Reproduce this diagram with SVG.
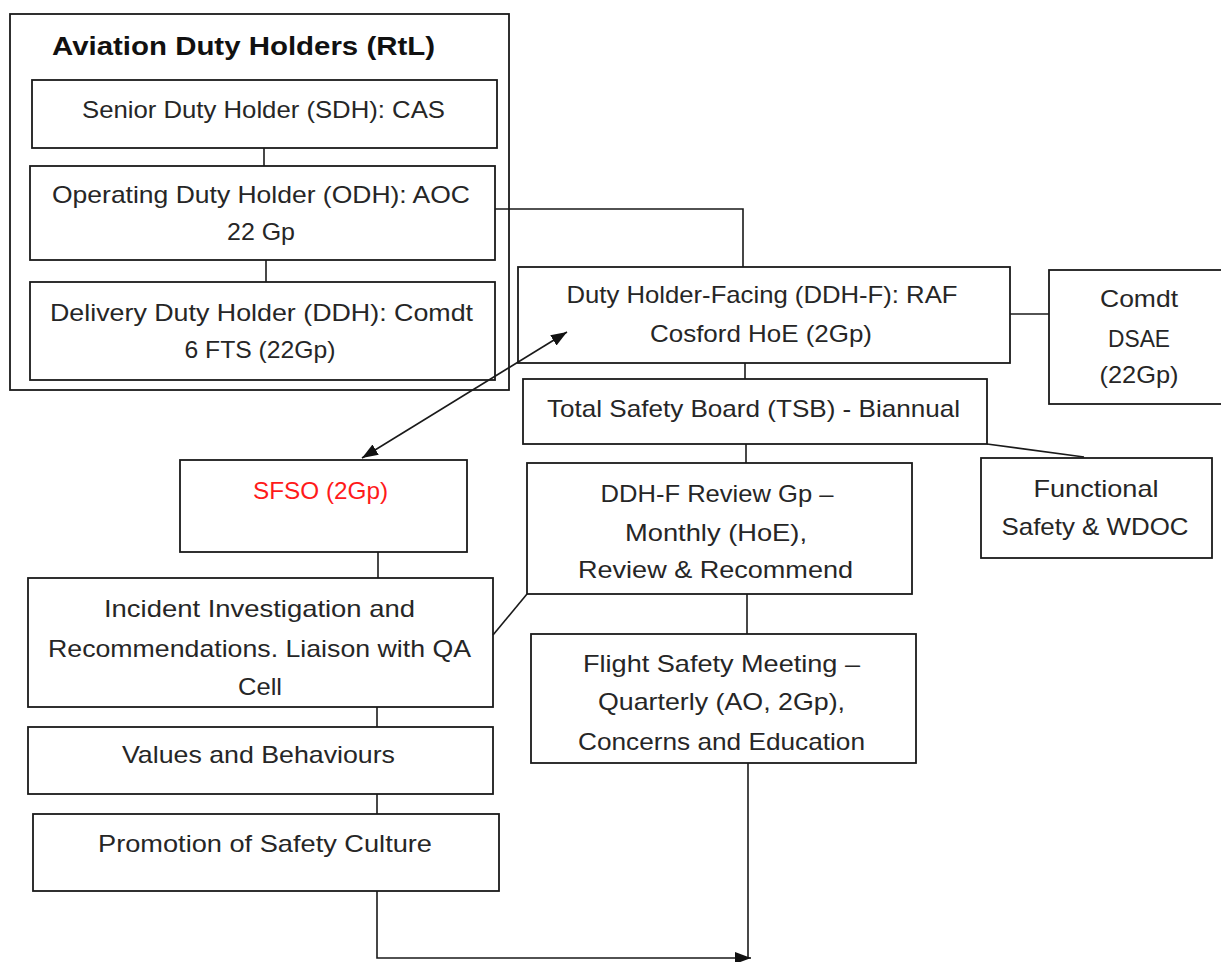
<svg xmlns="http://www.w3.org/2000/svg" width="1221" height="962" viewBox="0 0 1221 962">
<defs>
<style>
.box{fill:#fff;stroke:#1a1a1a;stroke-width:1.8}
.frame{fill:none;stroke:#1a1a1a;stroke-width:1.8}
.t{font-family:"Liberation Sans",Arial,sans-serif;font-size:24px;fill:#262626;text-anchor:middle}
.title{font-family:"Liberation Sans",Arial,sans-serif;font-size:25px;font-weight:bold;fill:#111}
.red{fill:#ff1a1a}
.c{fill:none;stroke:#1a1a1a;stroke-width:1.6}
</style>
<marker id="ah" viewBox="0 0 16 12" refX="16" refY="6" markerWidth="16" markerHeight="12" markerUnits="userSpaceOnUse" orient="auto-start-reverse">
<path d="M0,0 L16,6 L0,12 Z" fill="#111"/>
</marker>
</defs>
<rect width="1221" height="962" fill="#fff"/>

<g id="aviation-duty-holders">
<rect class="frame" x="10" y="14" width="499" height="376"/>
<text class="title" x="52" y="55" textLength="383" lengthAdjust="spacingAndGlyphs">Aviation Duty Holders (RtL)</text>
</g>

<g id="sdh">
<rect class="box" x="32" y="80" width="465" height="68"/>
<text class="t" x="263.5" y="118" textLength="363" lengthAdjust="spacingAndGlyphs">Senior Duty Holder (SDH): CAS</text>
</g>

<g id="odh">
<rect class="box" x="30" y="166" width="465" height="94"/>
<text class="t" x="261" y="203" textLength="418" lengthAdjust="spacingAndGlyphs">Operating Duty Holder (ODH): AOC</text>
<text class="t" x="261" y="240" textLength="68" lengthAdjust="spacingAndGlyphs">22 Gp</text>
</g>

<g id="ddh">
<rect class="box" x="30" y="282" width="465" height="98"/>
<text class="t" x="261.5" y="321" textLength="423" lengthAdjust="spacingAndGlyphs">Delivery Duty Holder (DDH): Comdt</text>
<text class="t" x="260" y="358" textLength="151" lengthAdjust="spacingAndGlyphs">6 FTS (22Gp)</text>
</g>

<g id="ddh-f">
<rect class="box" x="518" y="267" width="492" height="96"/>
<text class="t" x="762" y="303" textLength="391" lengthAdjust="spacingAndGlyphs">Duty Holder-Facing (DDH-F): RAF</text>
<text class="t" x="761" y="342" textLength="222" lengthAdjust="spacingAndGlyphs">Cosford HoE (2Gp)</text>
</g>

<g id="comdt-dsae">
<rect class="box" x="1049" y="270" width="180" height="134"/>
<text class="t" x="1139" y="307" textLength="78" lengthAdjust="spacingAndGlyphs">Comdt</text>
<text class="t" x="1139" y="347" textLength="62" lengthAdjust="spacingAndGlyphs">DSAE</text>
<text class="t" x="1139" y="383" textLength="79" lengthAdjust="spacingAndGlyphs">(22Gp)</text>
</g>

<g id="tsb">
<rect class="box" x="523" y="379" width="464" height="65"/>
<text class="t" x="753.5" y="417" textLength="413" lengthAdjust="spacingAndGlyphs">Total Safety Board (TSB) - Biannual</text>
</g>

<g id="functional-safety">
<rect class="box" x="981" y="458" width="231" height="100"/>
<text class="t" x="1096" y="497" textLength="125" lengthAdjust="spacingAndGlyphs">Functional</text>
<text class="t" x="1095" y="535" textLength="187" lengthAdjust="spacingAndGlyphs">Safety &amp; WDOC</text>
</g>

<g id="review-gp">
<rect class="box" x="527" y="463" width="385" height="131"/>
<text class="t" x="717" y="502" textLength="233" lengthAdjust="spacingAndGlyphs">DDH-F Review Gp –</text>
<text class="t" x="716" y="541" textLength="182" lengthAdjust="spacingAndGlyphs">Monthly (HoE),</text>
<text class="t" x="715.5" y="578" textLength="275" lengthAdjust="spacingAndGlyphs">Review &amp; Recommend</text>
</g>

<g id="flight-safety-meeting">
<rect class="box" x="531" y="634" width="385" height="129"/>
<text class="t" x="721.5" y="672" textLength="277" lengthAdjust="spacingAndGlyphs">Flight Safety Meeting –</text>
<text class="t" x="721.5" y="710" textLength="247" lengthAdjust="spacingAndGlyphs">Quarterly (AO, 2Gp),</text>
<text class="t" x="721.5" y="750" textLength="287" lengthAdjust="spacingAndGlyphs">Concerns and Education</text>
</g>

<g id="sfso">
<rect class="box" x="180" y="460" width="287" height="92"/>
<text class="t red" x="320.5" y="499" textLength="135" lengthAdjust="spacingAndGlyphs">SFSO (2Gp)</text>
</g>

<g id="incident-investigation">
<rect class="box" x="28" y="578" width="465" height="129"/>
<text class="t" x="259.5" y="617" textLength="311" lengthAdjust="spacingAndGlyphs">Incident Investigation and</text>
<text class="t" x="259.5" y="657" textLength="423" lengthAdjust="spacingAndGlyphs">Recommendations. Liaison with QA</text>
<text class="t" x="260" y="695" textLength="44" lengthAdjust="spacingAndGlyphs">Cell</text>
</g>

<g id="values-behaviours">
<rect class="box" x="28" y="727" width="465" height="67"/>
<text class="t" x="258.5" y="763" textLength="273" lengthAdjust="spacingAndGlyphs">Values and Behaviours</text>
</g>

<g id="safety-culture">
<rect class="box" x="33" y="814" width="466" height="77"/>
<text class="t" x="265" y="852" textLength="334" lengthAdjust="spacingAndGlyphs">Promotion of Safety Culture</text>
</g>

<g id="connectors">
<line class="c" x1="264" y1="148" x2="264" y2="166"/>
<line class="c" x1="266" y1="260" x2="266" y2="282"/>
<polyline class="c" points="495,209 743,209 743,267"/>
<line class="c" x1="1010" y1="314" x2="1049" y2="314"/>
<line class="c" x1="745" y1="363" x2="745" y2="379"/>
<line class="c" x1="746" y1="444" x2="746" y2="463"/>
<line class="c" x1="987" y1="444" x2="1084" y2="457"/>
<line class="c" x1="747" y1="594" x2="747" y2="634"/>
<line class="c" x1="493" y1="635" x2="527" y2="594"/>
<line class="c" x1="378" y1="552" x2="378" y2="578"/>
<line class="c" x1="377" y1="707" x2="377" y2="727"/>
<line class="c" x1="377" y1="794" x2="377" y2="814"/>
<line class="c" x1="362" y1="458" x2="567" y2="332" marker-start="url(#ah)" marker-end="url(#ah)"/>
<line class="c" x1="748" y1="763" x2="748" y2="958"/>
<polyline class="c" points="377,891 377,958 751,958" marker-end="url(#ah)"/>
</g>
</svg>
